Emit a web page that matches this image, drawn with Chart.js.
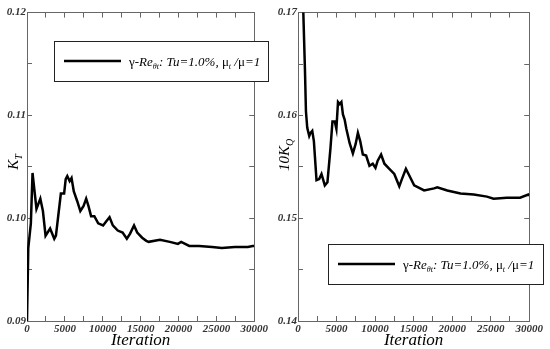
<!DOCTYPE html>
<html>
<head>
<meta charset="utf-8">
<script src="https://cdn.jsdelivr.net/npm/chart.js@4"></script>
<style>
  body { margin: 0; background: #fff; }
  canvas { position: absolute; top: 0; }
</style>
</head>
<body>
<canvas id="left" width="275" height="349" style="left:0"></canvas>
<canvas id="right" width="275" height="349" style="left:275px"></canvas>
<script>
// K_T history
const iterKT = [0, 170, 510, 730, 1250, 1760, 2100, 2450, 3050, 3600, 3820, 4470, 4900, 5110, 5320, 5630, 5880, 6180, 6610, 7040,
  7470, 7810, 8110, 8460, 8890, 9400, 10050, 10470, 10900, 11330, 11980, 12620, 13180, 13610, 14130, 14550, 15200, 15750, 16060,
  17560, 18850, 19920, 20350, 21420, 22710, 24430, 25720, 27430, 29150, 29800, 30000];
const valKT = [0.0900, 0.0971, 0.0995, 0.1044, 0.1009, 0.1019, 0.1007, 0.0983, 0.0990, 0.0980, 0.0983, 0.1024, 0.1024, 0.1038,
  0.1041, 0.1036, 0.1039, 0.1026, 0.1017, 0.1007, 0.1012, 0.1019, 0.1012, 0.1002, 0.1002, 0.0995, 0.0993, 0.0997, 0.1001,
  0.0993, 0.0988, 0.0986, 0.0980, 0.0985, 0.0993, 0.0986, 0.0981, 0.0978, 0.0977, 0.0979, 0.0977, 0.0975, 0.0977, 0.0973,
  0.0973, 0.0972, 0.0971, 0.0972, 0.0972, 0.0973, 0.0973];

// 10K_Q history
const iterKQ = [500, 690, 900, 1030, 1200, 1460, 1630, 1850, 2060, 2400, 2750, 3050, 3480, 3820, 4210, 4470, 4770, 4980, 5190,
  5410, 5630, 5830, 6050, 6270, 6700, 7120, 7470, 7770, 8070, 8410, 8840, 9270, 9700, 10050, 10340, 10780, 11210, 11850,
  12490, 13140, 13480, 14000, 14340, 15070, 16360, 17650, 18070, 19360, 21080, 22800, 24510, 25370, 27090, 28810, 29880, 30000];
const valKQ = [0.1760, 0.1700, 0.1645, 0.1604, 0.1588, 0.1580, 0.1583, 0.1585, 0.1575, 0.1537, 0.1538, 0.1543, 0.1532, 0.1535,
  0.1568, 0.1594, 0.1594, 0.1587, 0.1613, 0.1611, 0.1613, 0.1601, 0.1596, 0.1587, 0.1573, 0.1563, 0.1572, 0.1583, 0.1575,
  0.1562, 0.1561, 0.1551, 0.1553, 0.1549, 0.1556, 0.1562, 0.1553, 0.1548, 0.1543, 0.1531, 0.1538, 0.1548, 0.1543, 0.1532,
  0.1527, 0.1529, 0.1530, 0.1527, 0.1524, 0.1523, 0.1521, 0.1519, 0.1520, 0.1520, 0.1523, 0.1522];

const xTicks = [0, 5000, 10000, 15000, 20000, 25000, 30000];
const leftRange = [0.09, 0.12];
const rightRange = [0.14, 0.17];

const SERIF = "'Liberation Serif', 'DejaVu Serif', serif";
const FRAME = "#666";
const tickFont = { family: SERIF, size: 11, style: "italic", weight: "bold" };

// legend: [text, italic, subscript]
const legendParts = [
  ["γ-", false, false], ["Re", true, false], ["θt", true, true], [": Tu=1.0%, ", true, false],
  ["μ", false, false], ["t", true, true], [" /", true, false], ["μ", false, false], ["=1", true, false]
];

function drawRich(ctx, x, y, parts, size, subSize) {
  parts.forEach(([txt, it, sub]) => {
    ctx.font = (it ? "italic " : "") + (sub ? subSize : size) + "px " + SERIF;
    ctx.fillText(txt, x, sub ? y + 3 : y);
    x += ctx.measureText(txt).width;
  });
}

const deco = {
  id: "deco",
  afterDraw(chart, args, o) {
    const ctx = chart.ctx;
    ctx.save();
    ctx.fillStyle = "#000";
    ctx.textBaseline = "alphabetic";
    // y title
    ctx.translate(o.titleX, o.titleY);
    ctx.rotate(-Math.PI / 2);
    ctx.font = "italic 15px " + SERIF;
    const w1 = ctx.measureText(o.title).width;
    ctx.font = "italic 10px " + SERIF;
    const w2 = ctx.measureText(o.sub).width;
    let x = -(w1 + w2) / 2;
    ctx.font = "italic 15px " + SERIF;
    ctx.fillText(o.title, x, 0);
    ctx.font = "italic 10px " + SERIF;
    ctx.fillText(o.sub, x + w1, 4);
    ctx.restore();

    // legend box
    const b = o.box;
    ctx.save();
    ctx.strokeStyle = "#222";
    ctx.lineWidth = 1;
    ctx.fillStyle = "#fff";
    ctx.fillRect(b[0], b[1], b[2] - b[0], b[3] - b[1]);
    ctx.strokeRect(b[0] + 0.5, b[1] + 0.5, b[2] - b[0], b[3] - b[1]);
    const my = (b[1] + b[3]) / 2;
    ctx.strokeStyle = "#000";
    ctx.lineWidth = 2.5;
    ctx.beginPath();
    ctx.moveTo(b[0] + 10, my);
    ctx.lineTo(b[0] + 67, my);
    ctx.stroke();
    ctx.fillStyle = "#000";
    drawRich(ctx, b[0] + 75, my + 5, legendParts, 13, 8);
    ctx.restore();
  }
};

function axisOpts(pos, fitSize, labels, fmt, step, min, max) {
  return {
    type: "linear",
    position: pos,
    min: min,
    max: max,
    afterFit: (s) => { if (pos === "left" || pos === "right") s.width = fitSize; else s.height = fitSize; },
    grid: { display: true, drawOnChartArea: false, drawTicks: true, tickLength: -5, color: FRAME, lineWidth: 1 },
    border: { display: true, color: FRAME, width: 1 },
    ticks: {
      display: labels,
      stepSize: step,
      padding: pos === "left" ? 6 : 7,
      color: "#333",
      font: tickFont,
      maxRotation: 0,
      autoSkip: false,
      callback: fmt
    }
  };
}

const fmtX = (v) => (xTicks.includes(Math.round(v)) ? String(Math.round(v)) : "");
const fmtY = (v) => (Math.round(v * 1000) % 10 === 0 ? v.toFixed(2) : "");

function makeChart(id, iters, vals, range, padRight, yWidth, title, sub, titleX, titleY, box) {
  const pts = iters.map((it, i) => ({ x: it, y: vals[i] }));
  const x = axisOpts("bottom", 28, true, fmtX, 2500, 0, 30000);
  x.title = { display: true, text: "Iteration", color: "#000", padding: 0,
    font: { family: SERIF, size: 17, style: "italic", lineHeight: 1.0 } };
  return new Chart(document.getElementById(id), {
    type: "line",
    data: { datasets: [{ data: pts, borderColor: "#000", borderWidth: 2.5, pointRadius: 0, tension: 0, fill: false }] },
    options: {
      responsive: false,
      animation: false,
      layout: { padding: { left: 0, right: padRight, top: 10, bottom: 0 } },
      plugins: {
        legend: { display: false },
        tooltip: { enabled: false },
        deco: { title, sub, titleX, titleY, box }
      },
      scales: {
        x: x,
        x2: axisOpts("top", 0, false, fmtX, 2500, 0, 30000),
        y: axisOpts("left", yWidth, true, fmtY, 0.005, range[0], range[1]),
        y2: axisOpts("right", 0, false, fmtY, 0.005, range[0], range[1])
      }
    },
    plugins: [deco]
  });
}

makeChart("left", iterKT, valKT, leftRange, 15, 27, "K", "T", 18, 162, [54, 41, 268, 81]);
makeChart("right", iterKQ, valKQ, rightRange, 19, 23, "10K", "Q", 14, 155, [53, 244, 268, 284]);
</script>
</body>
</html>
